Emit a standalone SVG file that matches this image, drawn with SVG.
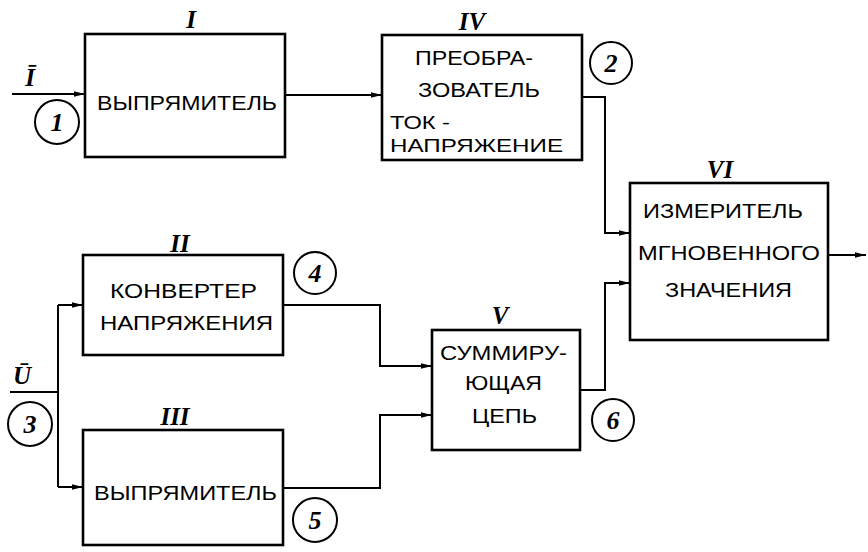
<svg xmlns="http://www.w3.org/2000/svg" width="868" height="552" viewBox="0 0 868 552">
<defs>
<marker id="arr" markerUnits="userSpaceOnUse" markerWidth="12" markerHeight="8" refX="11" refY="4" orient="auto">
<path d="M0,1.2 L11,4 L0,6.8 Z" fill="#000"/>
</marker>
<style>
.box{fill:#fff;stroke:#000;stroke-width:2.6}
.t{font-family:"Liberation Sans",Arial,sans-serif;font-size:21px;fill:#000}
.ts{font-family:"Liberation Sans",Arial,sans-serif;font-size:18px;fill:#000}
.rn{font-family:"Liberation Serif","Times New Roman",serif;font-style:italic;font-weight:bold;font-size:25px;fill:#000;text-anchor:middle}
.c{fill:none;stroke:#000;stroke-width:2}
.cn{font-family:"Liberation Serif","Times New Roman",serif;font-style:italic;font-weight:bold;font-size:26px;fill:#000;text-anchor:middle}
.w{fill:none;stroke:#000;stroke-width:2}
.wa{fill:none;stroke:#000;stroke-width:2;marker-end:url(#arr)}
</style>
</defs>
<rect width="868" height="552" fill="#fff"/>

<g id="connectors">
<path class="wa" d="M12,94 H85"/>
<path class="wa" d="M285,95 H382"/>
<path class="wa" d="M582,97 H605 V233 H630"/>
<path class="wa" d="M580,390 H605 V283 H630"/>
<path class="wa" d="M828,255 H866"/>
<path class="w" d="M10,392 H58"/>
<path class="w" d="M58,305 V487"/>
<path class="wa" d="M58,305 H83"/>
<path class="wa" d="M58,487 H83"/>
<path class="wa" d="M283,305 H380 V366 H432"/>
<path class="wa" d="M283,488 H380 V415 H432"/>
</g>

<g id="node-I">
<rect class="box" x="85" y="34" width="200" height="123"/>
<text class="rn" x="191" y="28">I</text>
<text class="t" x="97" y="110" textLength="180" lengthAdjust="spacingAndGlyphs">ВЫПРЯМИТЕЛЬ</text>
</g>

<g id="node-IV">
<rect class="box" x="382" y="35" width="200" height="125"/>
<text class="rn" x="472" y="30">IV</text>
<text class="t" x="415" y="65" textLength="118" lengthAdjust="spacingAndGlyphs">ПРЕОБРА-</text>
<text class="t" x="418" y="97" textLength="122" lengthAdjust="spacingAndGlyphs">ЗОВАТЕЛЬ</text>
<text class="ts" x="390" y="129" textLength="60" lengthAdjust="spacingAndGlyphs">ТОК -</text>
<text class="ts" x="390" y="152" textLength="173" lengthAdjust="spacingAndGlyphs">НАПРЯЖЕНИЕ</text>
</g>

<g id="node-VI">
<rect class="box" x="630" y="183" width="198" height="157"/>
<text class="rn" x="720" y="178">VI</text>
<text class="t" x="643" y="218" textLength="160" lengthAdjust="spacingAndGlyphs">ИЗМЕРИТЕЛЬ</text>
<text class="t" x="638" y="260" textLength="182" lengthAdjust="spacingAndGlyphs">МГНОВЕННОГО</text>
<text class="t" x="665" y="297" textLength="127" lengthAdjust="spacingAndGlyphs">ЗНАЧЕНИЯ</text>
</g>

<g id="node-II">
<rect class="box" x="83" y="255" width="200" height="100"/>
<text class="rn" x="180" y="252">II</text>
<text class="t" x="110" y="298" textLength="147" lengthAdjust="spacingAndGlyphs">КОНВЕРТЕР</text>
<text class="t" x="100" y="330" textLength="173" lengthAdjust="spacingAndGlyphs">НАПРЯЖЕНИЯ</text>
</g>

<g id="node-III">
<rect class="box" x="83" y="430" width="200" height="115"/>
<text class="rn" x="175" y="425">III</text>
<text class="t" x="94" y="500" textLength="183" lengthAdjust="spacingAndGlyphs">ВЫПРЯМИТЕЛЬ</text>
</g>

<g id="node-V">
<rect class="box" x="432" y="330" width="148" height="120"/>
<text class="rn" x="500" y="324">V</text>
<text class="t" x="440" y="360" textLength="127" lengthAdjust="spacingAndGlyphs">СУММИРУ-</text>
<text class="t" x="465" y="390" textLength="77" lengthAdjust="spacingAndGlyphs">ЮЩАЯ</text>
<text class="t" x="472" y="423" textLength="65" lengthAdjust="spacingAndGlyphs">ЦЕПЬ</text>
</g>

<g id="labels">
<text class="rn" x="30" y="86">Ī</text>
<text class="rn" x="22" y="384">Ū</text>
<circle class="c" cx="57" cy="122" r="22"/>
<text class="cn" x="57" y="131">1</text>
<circle class="c" cx="611" cy="63" r="21"/>
<text class="cn" x="611" y="72">2</text>
<circle class="c" cx="30" cy="424" r="22"/>
<text class="cn" x="30" y="433">3</text>
<circle class="c" cx="315" cy="273" r="21"/>
<text class="cn" x="315" y="282">4</text>
<circle class="c" cx="315" cy="520" r="22"/>
<text class="cn" x="315" y="529">5</text>
<circle class="c" cx="613" cy="420" r="21"/>
<text class="cn" x="613" y="429">6</text>
</g>
</svg>
